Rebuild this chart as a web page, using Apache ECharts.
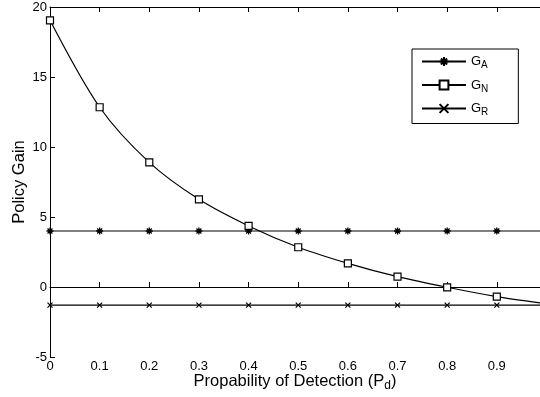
<!DOCTYPE html>
<html>
<head>
<meta charset="utf-8">
<script src="https://cdn.jsdelivr.net/npm/echarts@6/dist/echarts.min.js"></script>
<style>
  html, body { margin: 0; padding: 0; background: #fff; }
  #chart { width: 540px; height: 397px; }
</style>
</head>
<body>
<div id="chart"></div>
<script>
// probability of detection samples (markers)
const pd = [0, 0.1, 0.2, 0.3, 0.4, 0.5, 0.6, 0.7, 0.8, 0.9];
const gA = [4, 4, 4, 4, 4, 4, 4, 4, 4, 4];
const gN = [19.05, 12.84, 8.9, 6.26, 4.36, 2.84, 1.69, 0.74, -0.02, -0.69];
const gR = [-1.3, -1.3, -1.3, -1.3, -1.3, -1.3, -1.3, -1.3, -1.3, -1.3];
// right edge of the visible plot
const xEnd = 0.987;
const gAEnd = 4;
const gNEnd = -1.14;
const gREnd = -1.3;

const yTicks = [-5, 0, 5, 10, 15, 20];

const asterisk = 'path://M5,0L5,10M0,5L10,5M1.5,1.5L8.5,8.5M8.5,1.5L1.5,8.5';
const cross = 'path://M0,0L10,10M10,0L0,10';

const toData = (xs, ys, endY) => {
  const d = xs.map((x, i) => [x, ys[i]]);
  d.push({ value: [xEnd, endY], symbol: 'none' });
  return d;
};

const font = 'Liberation Sans, Arial, Helvetica, sans-serif';

const myChart = echarts.init(document.getElementById('chart'), null, { renderer: 'canvas' });
myChart.setOption({
  animation: false,
  textStyle: { fontFamily: font, color: '#000' },
  grid: { left: 50, top: 7, right: 0, bottom: 40, outerBoundsMode: 'none', containLabel: false },
  legend: {
    orient: 'vertical',
    left: 412,
    top: 49,
    padding: [6, 30, 6, 9],
    itemWidth: 44,
    itemHeight: 11,
    itemGap: 8,
    borderColor: '#000',
    borderWidth: 1,
    backgroundColor: '#fff',
    textStyle: {
      fontSize: 13, color: '#000', fontFamily: font,
      rich: { sub: { fontSize: 10, fontFamily: font, color: '#000', padding: [8, 0, 0, 0] } },
    },
    formatter: (name) => 'G{sub|' + name.slice(1) + '}',
    data: ['GA', 'GN', 'GR'],
  },
  xAxis: [
    {
      type: 'value',
      min: 0,
      max: xEnd,
      interval: 0.1,
      name: 'Propability of Detection (P{sub|d})',
      nameLocation: 'middle',
      nameGap: 14,
      nameMoveOverlap: false,
      nameTextStyle: {
        fontSize: 16.5, color: '#000', fontFamily: font,
        rich: { sub: { fontSize: 12, fontFamily: font, color: '#000', padding: [9, 0, 0, 0] } },
      },
      axisLine: { show: true, lineStyle: { color: '#000', width: 1 } },
      axisTick: { show: true, inside: true, length: 5, lineStyle: { color: '#000' } },
      axisLabel: {
        fontSize: 13, color: '#000', margin: 3,
        showMaxLabel: false,
        formatter: (v) => (Math.round(v * 10) / 10).toString(),
      },
      splitLine: { show: false },
    },
    {
      type: 'value',
      position: 'top',
      min: 0,
      max: xEnd,
      interval: 0.1,
      axisLine: { show: true, lineStyle: { color: '#000', width: 1 } },
      axisTick: { show: true, inside: true, length: 5, lineStyle: { color: '#000' } },
      axisLabel: { show: false },
      splitLine: { show: false },
    },
  ],
  yAxis: {
    type: 'value',
    min: yTicks[0],
    max: yTicks[yTicks.length - 1],
    interval: 5,
    name: 'Policy Gain',
    nameLocation: 'middle',
    nameGap: 22,
    nameMoveOverlap: false,
    nameTextStyle: { fontSize: 16.5, color: '#000', fontFamily: font },
    axisLine: { show: true, lineStyle: { color: '#000', width: 1 } },
    axisTick: { show: true, inside: true, length: 5, lineStyle: { color: '#000' } },
    axisLabel: { fontSize: 13, color: '#000', margin: 3 },
    splitLine: { show: false },
  },
  series: [
    {
      name: 'GA',
      type: 'line',
      data: toData(pd, gA, gAEnd),
      symbol: asterisk,
      symbolSize: 7,
      showAllSymbol: true,
      lineStyle: { color: '#000', width: 1.2 },
      itemStyle: { color: '#000', borderColor: '#000', borderWidth: 1.3 },
    },
    {
      name: 'GN',
      type: 'line',
      data: toData(pd, gN, gNEnd),
      smooth: 0.3,
      symbol: 'rect',
      symbolSize: 7,
      showAllSymbol: true,
      lineStyle: { color: '#000', width: 1.2 },
      itemStyle: { color: '#fff', borderColor: '#000', borderWidth: 1.2 },
    },
    {
      name: 'GR',
      type: 'line',
      data: toData(pd, gR, gREnd),
      symbol: cross,
      symbolSize: 5,
      showAllSymbol: true,
      lineStyle: { color: '#000', width: 1.2 },
      itemStyle: { color: '#000', borderColor: '#000', borderWidth: 1.2 },
    },
  ],
});
window.addEventListener('resize', myChart.resize);
</script>
</body>
</html>
